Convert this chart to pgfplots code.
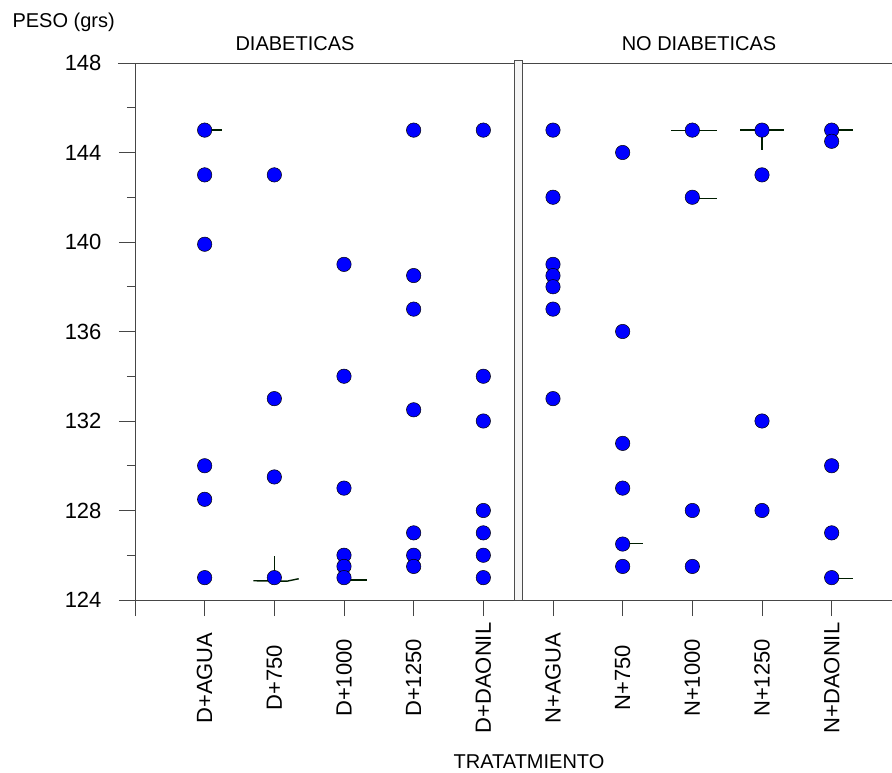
\documentclass[border=0pt]{standalone}
\usepackage{fontspec}
\setmainfont{Liberation Sans}
\usepackage{pgfplots}
\usepackage{pgfplotstable}
\pgfplotsset{compat=1.18}
\definecolor{dotblue}{RGB}{0,0,255}
\definecolor{whisk}{RGB}{0,30,0}
\definecolor{axgray}{RGB}{70,70,70}
\pgfplotstableread{
x y
0 145
0 143
0 139.9
0 130
0 128.5
0 125
1 143
1 133
1 129.5
1 125
2 139
2 134
2 129
2 126
2 125.5
2 125
3 145
3 138.5
3 137
3 132.5
3 127
3 126
3 125.5
4 145
4 134
4 132
4 128
4 127
4 126
4 125
5 145
5 142
5 139
5 138.5
5 138
5 137
5 133
6 144
6 136
6 131
6 129
6 126.5
6 125.5
7 145
7 142
7 128
7 125.5
8 145
8 143
8 132
8 128
9 145
9 144.5
9 130
9 127
9 125
}\pts
\begin{document}
\begin{tikzpicture}[x=1pt,y=1pt]
\path[use as bounding box] (-135,-173) rectangle (757,600);
\begin{axis}[
 at={(0,0)}, anchor=south west,
 scale only axis, width=757pt, height=537pt,
 xmin=-1, xmax=9.866, ymin=124, ymax=148,
 axis x line*=bottom, axis y line*=left,
 axis line style={-, draw=axgray, line width=0.9pt},
 tick style={draw=axgray, line width=0.9pt},
 tick align=outside,
 major tick length=16pt, minor tick length=8pt,
 ytick={124,128,...,148}, minor ytick={126,130,...,146},
 xtick={0,...,9},
 xticklabels={D+AGUA,D+750,D+1000,D+1250,D+DAONIL,N+AGUA,N+750,N+1000,N+1250,N+DAONIL},
 extra x ticks={-1}, extra x tick labels={},
 /pgf/number format/assume math mode=true,
 yticklabel style={font=\fontsize{22}{24}\selectfont, xshift=-14pt},
 xticklabel style={font=\fontsize{22}{24}\selectfont, yshift=-62pt, rotate=90, anchor=center},
 clip=false,
]
\addplot[whisk, line width=1.4pt] coordinates {(0,145) (0.245,145)};
\addplot[whisk, line width=1.4pt] coordinates {(1,125) (1,125.98)};
\addplot[whisk, line width=1.4pt] coordinates {(0.70,124.86) (1.18,124.84) (1.35,124.95)};
\addplot[whisk, line width=1.4pt] coordinates {(2,124.9) (2.33,124.9)};
\addplot[whisk, line width=1.4pt] coordinates {(6,126.53) (6.29,126.53)};
\addplot[whisk, line width=1.4pt] coordinates {(6.70,144.97) (7.35,144.97)};
\addplot[whisk, line width=1.4pt] coordinates {(7,141.94) (7.35,141.94)};
\addplot[whisk, line width=1.4pt] coordinates {(7.69,145) (8.31,145)};
\addplot[whisk, line width=1.4pt] coordinates {(8,145) (8,144.12)};
\addplot[whisk, line width=1.4pt] coordinates {(9,145) (9.31,145)};
\addplot[whisk, line width=1.4pt] coordinates {(9,124.95) (9.30,124.95)};
\addplot[only marks, mark=*, mark size=7.2pt, mark options={fill=dotblue, draw=black, line width=0.5pt}] table[x=x,y=y] {\pts};
\end{axis}
\draw[axgray, line width=0.9pt] (-17,537) -- (757,537);
\draw[black!70, fill=gray!8, line width=0.8pt] (379,0) rectangle (387,540);
\node[anchor=west, font=\fontsize{20}{22}\selectfont] at (-126,578) {PESO (grs)};
\node[font=\fontsize{20}{22}\selectfont] at (160,556) {DIABETICAS};
\node[font=\fontsize{20}{22}\selectfont] at (564,556) {NO DIABETICAS};
\node[font=\fontsize{20}{22}\selectfont] at (394,-162) {TRATATMIENTO};
\end{tikzpicture}
\end{document}
